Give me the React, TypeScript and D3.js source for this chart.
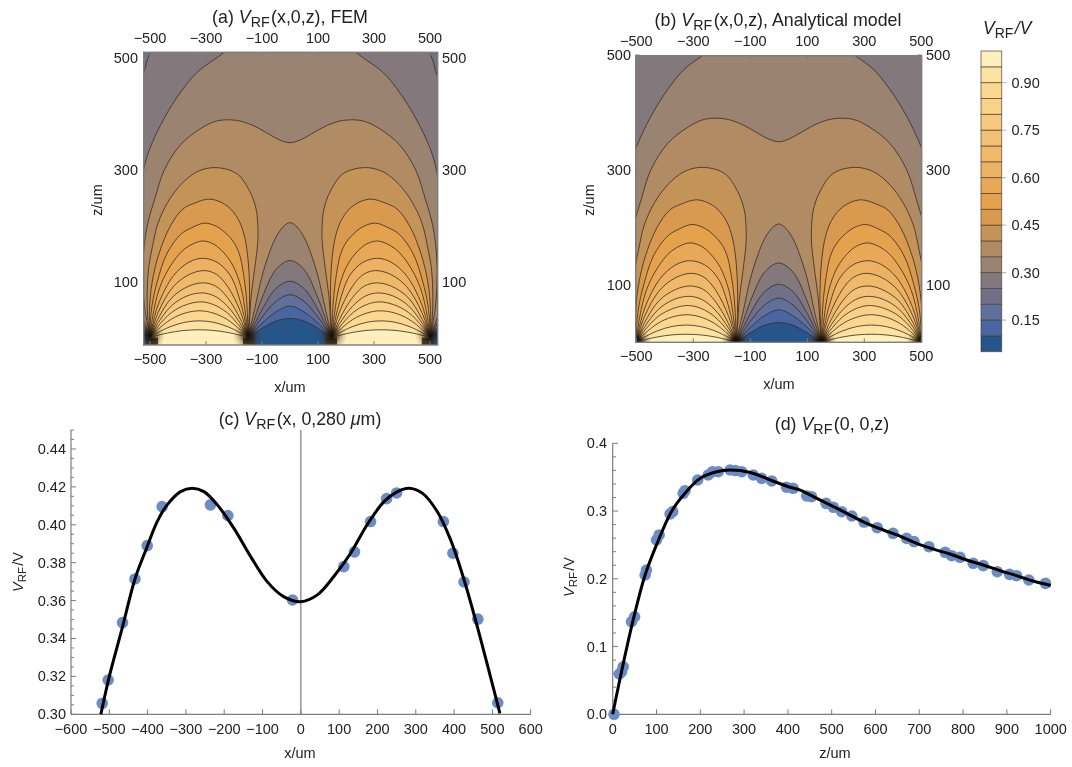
import React from "react";
import * as d3 from "d3";

// ---------- contour traces (a)/(b): [x um, z um], right half, mirrored on draw ----------
const lowLevels = [0.1, 0.15, 0.2, 0.25, 0.3, 0.35];
const archCurves: number[][][] = [
  [[0,34.4],[50,29.6],[100,16.5],[125,8.5],[150,0]],
  [[0,56.5],[50,46],[100,26],[125,13],[150,0]],
  [[0,76.8],[50,65],[100,36.5],[125,18.5],[150,0]],
  [[0,101],[50,88],[100,50],[125,25.5],[150,0]],
  [[0,138],[50,122],[100,71],[125,36],[150,0]],
  [[0,206],[25,198],[50,180],[75,150],[100,110],[125,54],[150,0]],
];
const outerCurves: number[][][] = [
  [[0,1200],[500,1100],[800,600],[800,200],[600,30],[527,8.5],[500,0]],
  [[0,1100],[500,1000],[800,500],[780,150],[600,45],[527,13],[500,0]],
  [[0,900],[500,800],[760,400],[700,120],[600,70],[527,18],[500,0]],
  [[0,690],[300,620],[496,511],[525,470],[600,350],[640,200],[600,80],[527,27],[500,0]],
  [[0,560],[150,538],[273,497],[332,475],[390,440],[449,393],[501,338],[523,300],[538,250],[548,180],[550,100],[535,50],[518,25],[500,0]],
  [[0,349],[37,354],[74,364],[133,380],[191,389],[261,388],[320,374],[390,346],[449,300],[482,250],[510,200],[523,150],[525,100],[518,50],[500,0]],
];
const lobeLevels = [0.4, 0.45, 0.5, 0.55, 0.6, 0.65, 0.7, 0.75, 0.8, 0.85, 0.9, 0.95];
const lobeCurves: number[][][] = [
  [[150,0],[145,27],[139,74],[127,120],[115,172],[115,201],[121,230],[144,262],[191,294],[267,304.5],[332,297],[390,274],[437,242],[472,204],[492,161],[505,125],[510,80],[508,35],[500,0]],
  [[150,0],[145,50],[145,100],[152,150],[164,184],[185,212],[225,236],[285,248],[345,240],[383,230],[427,200],[468,150],[492,100],[502,50],[500,0]],
  [[150,0],[151,27],[154,60],[162,100],[181,150],[200,170],[225,185],[262,199],[305,205],[350,197],[390,185],[440,150],[474,100],[492,60],[499,25],[500,0]],
  [[150,0],[158,39],[175,90],[205,130],[242,155],[275,168],[312,173],[350,167],[385,155],[425,130],[465,90],[490,39],[500,0]],
  [[150,0],[156,18],[175,60],[213,111],[261,135],[313,142],[361,135],[416,111],[470,60],[493,18],[500,0]],
  [[150,0],[176,45],[222,91],[262,113],[305,120],[360,113],[417,91],[471,45],[500,0]],
  [[150,0],[177,33],[224,72],[265,92],[310,98],[362,92],[421,72],[472,33],[500,0]],
  [[150,0],[177,25],[225,57],[270,74.5],[314,80],[368,74.5],[423,57],[473,25],[500,0]],
  [[150,0],[177,18.7],[226,45],[273,59],[318,64],[370,59],[423,45],[474,18.7],[500,0]],
  [[150,0],[177,13.5],[226,33],[275,44],[322,48],[374,44],[424,33],[474,13.5],[500,0]],
  [[150,0],[175,8],[225,20],[275,27.5],[325,30],[375,27.5],[425,20],[475,8],[500,0]],
  [[150,0],[175,3.7],[225,9.4],[275,12.9],[325,14],[375,12.9],[425,9.4],[475,3.7],[500,0]],
];
const electrodeEdges = [-500, -150, 150, 500];
const bandColors = ["#25548a","#4a66a3","#5e6f9a","#6f7088","#83787c","#9a8370","#b08b64","#c49359","#d99a50","#e4a24e","#e9a858","#ecb162","#efb96b","#f2c176","#f6c97f","#fad189","#fcd78f","#fde3a1","#fdf0bc"];
const legendTicks = [0.15, 0.3, 0.45, 0.6, 0.75, 0.9];
const contourXTicks = [-500, -300, -100, 100, 300, 500];
const contourZTicks = [100, 300, 500];

// ---------- panel (c) ----------
const cPointsX = [-518.5,-503,-465.5,-433,-401,-362,-236,-190.6,-21.7,112,140,182,224,250,372,397,426,462,514];
const cPointsV = [0.3058,0.3181,0.3484,0.3714,0.389,0.4096,0.4105,0.4049,0.3603,0.3779,0.3857,0.4017,0.4138,0.4168,0.4017,0.385,0.3698,0.3502,0.3061];
const cCurveX = [-522,-500,-465,-433,-403,-375,-349,-314,-283.6,-253,-218,-175,-131,-88,-45,0,43,86,130,173,217,252,282,317,356,391,426,460.6,495,519.6];
const cCurveV = [0.3,0.32,0.3465,0.3714,0.3875,0.4017,0.4105,0.4175,0.4193,0.4175,0.4105,0.3982,0.3832,0.37,0.3621,0.3594,0.363,0.3727,0.385,0.4,0.4122,0.4175,0.4193,0.4167,0.407,0.392,0.371,0.3463,0.3198,0.3005];
const cXTicks = [-600,-500,-400,-300,-200,-100,0,100,200,300,400,500,600];
const cYTicks = [0.3,0.32,0.34,0.36,0.38,0.4,0.42,0.44];

// ---------- panel (d) ----------
const dPointsZ = [3,15,20,24,43,50,74,77,100,106,131,137,161,165,194,218,228,241,268,280,294.5,321,340,363,397,412,443,454,487,504,523,546,574,604,640,671,688,722,759,774,793,823,846,878,906,922,950,988];
const dPointsV = [0,0.0595,0.0625,0.07,0.1367,0.144,0.2056,0.213,0.2573,0.2647,0.2957,0.2991,0.3262,0.33,0.3458,0.3532,0.3581,0.3581,0.3606,0.3598,0.3581,0.3532,0.3483,0.3444,0.3351,0.3336,0.3223,0.3212,0.3114,0.3055,0.299,0.2927,0.2838,0.2754,0.2671,0.2598,0.2548,0.2474,0.2391,0.2341,0.2317,0.2229,0.2194,0.2105,0.2066,0.2046,0.1982,0.1933];
const dCurveZ = [0,19,47,74,100,134,165,199,237,268,314,360,405,428,466,503,542,580,618,656,694,732,770,808,846,884,922,960,1000];
const dCurveV = [0,0.0595,0.14,0.2056,0.25,0.2991,0.3262,0.348,0.3581,0.3606,0.357,0.3458,0.3351,0.331,0.3188,0.307,0.2941,0.2818,0.272,0.263,0.2523,0.2439,0.2366,0.2277,0.2204,0.2121,0.2046,0.1967,0.1902];
const dXTicks = [0,100,200,300,400,500,600,700,800,900,1000];
const dYTicks = [0,0.1,0.2,0.3,0.4];

const FONT = "'Liberation Sans', Arial, sans-serif";
const INK = "#222222";
const AXIS = "#7d7d7d";
const TITLE = 17.8;
const fmt = (n: number) => String(n).replace("-", "\u2212");

const VRF = ({ size }: { size: number }) => (
  <>
    <tspan fontStyle="italic">V</tspan>
    <tspan fontSize={size * 0.8} dy={size * 0.2}>RF</tspan>
    <tspan dy={-size * 0.2}>{"\u200a"}</tspan>
  </>
);

type ContourProps = {
  id: string; left: number; right: number; top: number; bottom: number;
  xDom: [number, number]; xPx: [number, number]; zDom: [number, number]; zPx: [number, number];
  showBase: boolean; glow: number; glowOpacity: number; labelLeft: number; labelRight: number; topLabelY: number; bottomLabelY: number;
};

function ContourPanel(p: ContourProps) {
  const x = d3.scaleLinear().domain(p.xDom).range(p.xPx);
  const z = d3.scaleLinear().domain(p.zDom).range(p.zPx);
  const line = d3.line<number[]>().x((d) => x(d[0])).y((d) => z(d[1])).curve(d3.curveCatmullRom.alpha(0.5));
  const mirror = (c: number[][]) => c.map((d) => [-d[0], d[1]]);
  const full = (c: number[][]) => [...mirror(c).reverse().slice(0, -1), ...c];

  const fills: React.ReactNode[] = [];
  const strokes: React.ReactNode[] = [];
  lowLevels.forEach((lv, i) => {
    const outer = full(outerCurves[i]);
    const inner = full(archCurves[i]);
    const d = (line(outer) as string) + "L" + (line(inner.slice().reverse()) as string).slice(1) + "Z";
    fills.push(<path key={"l" + lv} d={d} fill={bandColors[i + 1]} />);
    strokes.push(<path key={"so" + lv} d={line(outer) as string} />, <path key={"si" + lv} d={line(inner) as string} />);
  });
  lobeLevels.forEach((lv, i) => {
    const r = lobeCurves[i];
    const l = mirror(r);
    fills.push(<path key={"f" + lv} d={(line(r) as string) + "Z" + (line(l) as string) + "Z"} fill={bandColors[i + 7]} />);
    strokes.push(<path key={"sr" + lv} d={line(r) as string} />, <path key={"sl" + lv} d={line(l) as string} />);
  });
  const w = p.right - p.left;
  const h = p.bottom - p.top;
  const base = z(0);
  const baseSegs = [
    { a: -530, b: -512, c: bandColors[0] }, { a: -512, b: -471, c: "#4a3a26" }, { a: -471, b: -168, c: bandColors[18] },
    { a: -168, b: -125, c: "#4a3a26" }, { a: -125, b: 125, c: bandColors[0] }, { a: 125, b: 168, c: "#4a3a26" },
    { a: 168, b: 471, c: bandColors[18] }, { a: 471, b: 512, c: "#4a3a26" }, { a: 512, b: 530, c: bandColors[0] },
  ];
  return (
    <g fontFamily={FONT} fontSize={14.5} fill={INK}>
      <clipPath id={p.id}><rect x={p.left} y={p.top} width={w} height={h} /></clipPath>
      <g clipPath={`url(#${p.id})`}>
        <rect x={p.left} y={p.top} width={w} height={h} fill={bandColors[0]} />
        {fills}
        <g fill="none" stroke="#3a3024" strokeOpacity={0.82} strokeWidth={1}>{strokes}</g>
        {p.showBase && baseSegs.map((s) => (
          <rect key={s.a} x={x(s.a)} width={x(s.b) - x(s.a)} y={base} height={p.bottom - base} fill={s.c} />
        ))}
        {electrodeEdges.map((e) => <circle key={e} cx={x(e)} cy={base - (p.showBase ? 2 : 0)} r={p.glow} opacity={p.glowOpacity} fill="url(#fanGlow)" />)}
      </g>
      <rect x={p.left} y={p.top} width={w} height={h} fill="none" stroke={AXIS} strokeWidth={1.4} />
      {contourXTicks.map((t) => (
        <g key={t}>
          <line x1={x(t)} x2={x(t)} y1={p.bottom} y2={p.bottom - 4} stroke={AXIS} />
          <line x1={x(t)} x2={x(t)} y1={p.top} y2={p.top + 4} stroke={AXIS} />
          <text x={x(t)} y={p.topLabelY} textAnchor="middle">{fmt(t)}</text>
          <text x={x(t)} y={p.bottomLabelY} textAnchor="middle">{fmt(t)}</text>
        </g>
      ))}
      {contourZTicks.map((t) => (
        <g key={t}>
          <line x1={p.left} x2={p.left + 4} y1={z(t)} y2={z(t)} stroke={AXIS} />
          <line x1={p.right} x2={p.right - 4} y1={z(t)} y2={z(t)} stroke={AXIS} />
          <text x={p.labelLeft} y={z(t) + 5} textAnchor="end">{t}</text>
          <text x={p.labelRight} y={z(t) + 5}>{t}</text>
        </g>
      ))}
    </g>
  );
}

function Legend() {
  const y = d3.scaleLinear().domain([0.05, 1]).range([351.7, 51]);
  const cells = bandColors.map((c, i) => ({ c, lo: 0.05 + i * 0.05, hi: i === bandColors.length - 1 ? 1 : 0.1 + i * 0.05 }));
  return (
    <g fontFamily={FONT} fontSize={14.5} fill={INK}>
      <text x={983} y={34} fontSize={17.5}><VRF size={17.5} /><tspan fontStyle="italic">/V</tspan></text>
      {cells.map((d) => (
        <rect key={d.lo} x={981} width={20.7} y={y(d.hi)} height={y(d.lo) - y(d.hi)} fill={d.c} stroke="#4a4032" strokeOpacity={0.75} strokeWidth={0.9} />
      ))}
      {legendTicks.map((t) => (
        <g key={t}>
          <line x1={1001.7} x2={1006} y1={y(t)} y2={y(t)} stroke="#b0b0b0" />
          <text x={1011.5} y={y(t) + 5}>{t.toFixed(2)}</text>
        </g>
      ))}
    </g>
  );
}

function LowerPanels() {
  const cx = d3.scaleLinear().domain([-600, 600]).range([71, 530.7]);
  const cy = d3.scaleLinear().domain([0.3, 0.45]).range([714.3, 430]);
  const dx = d3.scaleLinear().domain([0, 1000]).range([612.7, 1050.7]);
  const dy = d3.scaleLinear().domain([0, 0.4]).range([714.3, 443.3]);
  const cLine = d3.line<number>().x((v) => cx(v)).y((_, i) => cy(cCurveV[i])).curve(d3.curveCatmullRom.alpha(0.5));
  const dLine = d3.line<number>().x((v) => dx(v)).y((_, i) => dy(dCurveV[i])).curve(d3.curveCatmullRom.alpha(0.5));
  return (
    <g fontFamily={FONT} fontSize={14.5} fill={INK}>
      {/* panel c */}
      <line x1={71} x2={71} y1={430} y2={714.3} stroke={AXIS} strokeWidth={1.2} />
      <line x1={71} x2={530.7} y1={714.3} y2={714.3} stroke={AXIS} strokeWidth={1.2} />
      <line x1={cx(0)} x2={cx(0)} y1={430} y2={714.3} stroke={AXIS} strokeWidth={1.2} />
      {cy.ticks(30).map((t) => (
        <line key={t} x1={71} x2={cYTicks.some((m) => Math.abs(m - t) < 1e-6) ? 76 : 74} y1={cy(t)} y2={cy(t)} stroke={AXIS} />
      ))}
      {cYTicks.map((t) => <text key={t} x={66} y={cy(t) + 5} textAnchor="end">{t.toFixed(2)}</text>)}
      {cXTicks.map((t) => (
        <g key={t}>
          <line x1={cx(t)} x2={cx(t)} y1={714.3} y2={709.3} stroke={AXIS} />
          <text x={cx(t)} y={734} textAnchor="middle">{fmt(t)}</text>
        </g>
      ))}
      {cPointsX.map((v, i) => <circle key={v} cx={cx(v)} cy={cy(cPointsV[i])} r={5.8} fill="#6a8dc6" />)}
      <path d={cLine(cCurveX) as string} fill="none" stroke="#000" strokeWidth={3} />
      <text x={300} y={758} textAnchor="middle">x/um</text>
      <text x={300} y={425} textAnchor="middle" fontSize={TITLE}>(c) <VRF size={TITLE} />(x, 0,280 <tspan fontStyle="italic">μ</tspan>m)</text>
      <text transform="translate(23,572) rotate(-90)" textAnchor="middle"><VRF size={14.5} />/V</text>

      {/* panel d */}
      <line x1={612.7} x2={612.7} y1={443.3} y2={714.3} stroke={AXIS} strokeWidth={1.2} />
      <line x1={612.7} x2={1050.7} y1={714.3} y2={714.3} stroke={AXIS} strokeWidth={1.2} />
      {dy.ticks(20).map((t) => (
        <line key={t} x1={612.7} x2={dYTicks.some((m) => Math.abs(m - t) < 1e-6) ? 618 : 616} y1={dy(t)} y2={dy(t)} stroke={AXIS} />
      ))}
      {dYTicks.map((t) => <text key={t} x={607} y={dy(t) + 5} textAnchor="end">{t.toFixed(1)}</text>)}
      {dXTicks.map((t) => (
        <g key={t}>
          <line x1={dx(t)} x2={dx(t)} y1={714.3} y2={709.3} stroke={AXIS} />
          <text x={dx(t)} y={734} textAnchor="middle">{t}</text>
        </g>
      ))}
      {dPointsZ.map((v, i) => <circle key={v} cx={dx(v)} cy={dy(dPointsV[i])} r={5.8} fill="#6a8dc6" />)}
      <path d={dLine(dCurveZ) as string} fill="none" stroke="#000" strokeWidth={3} />
      <text x={835} y={758} textAnchor="middle">z/um</text>
      <text x={832} y={430} textAnchor="middle" fontSize={TITLE}>(d) <VRF size={TITLE} />(0, 0,z)</text>
      <text transform="translate(574,577) rotate(-90)" textAnchor="middle"><VRF size={14.5} />/V</text>
    </g>
  );
}

export default function App() {
  return (
    <svg width={1072} height={767} style={{ position: "absolute", left: 0, top: 0, background: "#fff" }}>
      <defs>
        <filter id="soft" filterUnits="userSpaceOnUse" x={0} y={0} width={1072} height={767}>
          <feGaussianBlur stdDeviation={0.45} />
        </filter>
        <radialGradient id="fanGlow">
          <stop offset="0%" stopColor="#000" stopOpacity={0.95} />
          <stop offset="35%" stopColor="#1c1408" stopOpacity={0.8} />
          <stop offset="70%" stopColor="#4a3414" stopOpacity={0.3} />
          <stop offset="100%" stopColor="#6a4a1c" stopOpacity={0} />
        </radialGradient>
      </defs>
      <g filter="url(#soft)">
        <rect width={1072} height={767} fill="#fff" />
        <ContourPanel id="clipA" left={143.7} right={437.7} top={52.3} bottom={345}
          xDom={[-500, 500]} xPx={[150, 430]} zDom={[0, 500]} zPx={[337.6, 58.4]} showBase glow={15} glowOpacity={0.75}
          labelLeft={138} labelRight={442} topLabelY={43} bottomLabelY={364} />
        <ContourPanel id="clipB" left={635.7} right={921.7} top={55.7} bottom={342.3}
          xDom={[-500, 500]} xPx={[636.3, 921.3]} zDom={[0, 500]} zPx={[342.3, 55]} showBase={false} glow={15} glowOpacity={1}
          labelLeft={631} labelRight={926} topLabelY={46} bottomLabelY={361} />
        <g fontFamily={FONT} fill={INK} fontSize={TITLE}>
          <text x={290} y={23} textAnchor="middle">(a) <VRF size={TITLE} />(x,0,z), FEM</text>
          <text x={778} y={26} textAnchor="middle">(b) <VRF size={TITLE} />(x,0,z), Analytical model</text>
        </g>
        <g fontFamily={FONT} fill={INK} fontSize={14.5} textAnchor="middle">
          <text x={290} y={392}>x/um</text>
          <text x={779} y={389}>x/um</text>
          <text transform="translate(102,200) rotate(-90)">z/um</text>
          <text transform="translate(594,200) rotate(-90)">z/um</text>
        </g>
        <Legend />
        <LowerPanels />
      </g>
    </svg>
  );
}
